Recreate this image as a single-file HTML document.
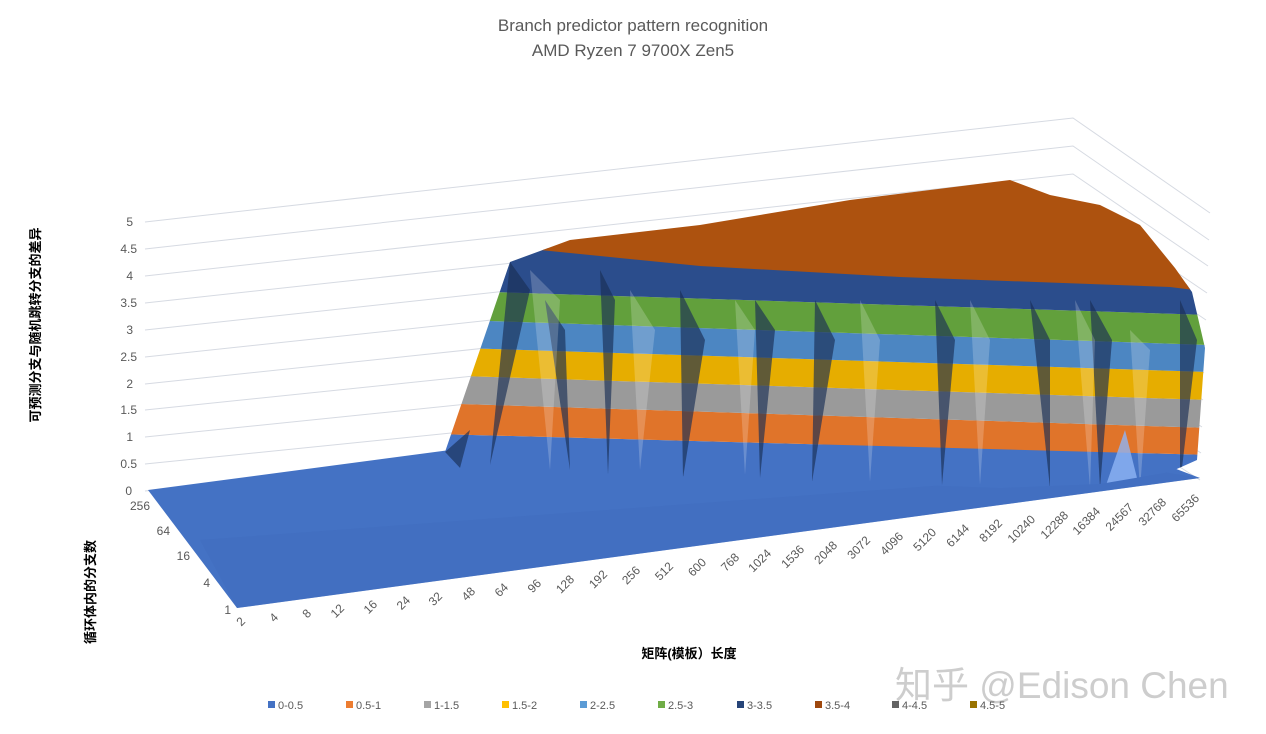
<!DOCTYPE html>
<html><head><meta charset="utf-8"><style>
html,body{margin:0;padding:0;background:#fff;}
svg{display:block;font-family:"Liberation Sans","Noto Sans CJK SC",sans-serif;}
</style></head><body>
<svg width="1266" height="734" viewBox="0 0 1266 734" xmlns="http://www.w3.org/2000/svg">
<rect width="1266" height="734" fill="#fff"/>
<text x="633" y="31" text-anchor="middle" font-size="17" fill="#595959">Branch predictor pattern recognition</text>
<text x="633" y="56" text-anchor="middle" font-size="17" fill="#595959">AMD Ryzen 7 9700X Zen5</text>

<g stroke="#d6dae2" stroke-width="1" fill="none">
<polyline points="145,491 1073,398 1200,480"/>
<polyline points="145,464 1073,370 1201,453"/>
<polyline points="145,437 1073,342 1202,427"/>
<polyline points="145,410 1073,314 1203,400"/>
<polyline points="145,384 1073,286 1204,373"/>
<polyline points="145,357 1073,258 1205,346"/>
<polyline points="145,330 1073,230 1206,320"/>
<polyline points="145,303 1073,202 1207,293"/>
<polyline points="145,276 1073,174 1208,266"/>
<polyline points="145,249 1073,146 1209,240"/>
<polyline points="145,222 1073,118 1210,213"/>
</g>
<g font-size="12" fill="#595959" text-anchor="end">
<text x="132" y="495">0</text><text x="137" y="468">0.5</text><text x="133" y="441">1</text>
<text x="137" y="414">1.5</text><text x="133" y="388">2</text><text x="137" y="361">2.5</text>
<text x="133" y="334">3</text><text x="137" y="307">3.5</text><text x="133" y="280">4</text>
<text x="137" y="253">4.5</text><text x="133" y="226">5</text>
</g>

<!-- floor -->
<polygon points="148,490 450,450 1100,440 1200,478 237,608" fill="#4472c4"/>
<polygon points="200,540 1150,470 1200,478 237,608" fill="#3f6cbd" opacity="0.5"/>

<defs><clipPath id="w"><polygon points="445,452 510,262 570,240 700,225 850,200 1010,180 1050,195 1100,205 1140,225 1175,268 1192,292 1205,348 1197,460 1170,472 1100,484 1000,488 460,468"/></clipPath></defs>
<g clip-path="url(#w)">
<polygon points="400,433 1210,455 1210,500 400,500" fill="#4472c4"/>
<polygon points="400,402 1210,428 1210,455 400,433" fill="#e0742a"/>
<polygon points="400,374 1210,400 1210,428 400,402" fill="#9a9a9a"/>
<polygon points="400,346 1210,372 1210,400 400,374" fill="#e6ad00"/>
<polygon points="400,318 1210,345 1210,372 400,346" fill="#4c86c2"/>
<polygon points="400,289 1210,315 1210,345 400,318" fill="#62a03c"/>
<polygon points="400,240 1210,285 1210,315 400,289" fill="#2b4d8c"/>
<polygon points="505,255 540,250 700,266 900,277 1170,287 1210,292 1210,150 505,150" fill="#ad520f"/>
<g fill="#1a2e55" opacity="0.65">
<polygon points="445,452 470,430 460,468"/>
<polygon points="510,262 530,290 490,465"/>
<polygon points="545,300 565,330 570,470"/>
<polygon points="600,270 615,300 608,475"/>
<polygon points="680,290 705,340 683,478"/>
<polygon points="755,300 775,330 760,478"/>
<polygon points="815,300 835,340 812,482"/>
<polygon points="935,300 955,340 942,485"/>
<polygon points="1030,300 1050,340 1050,488"/>
<polygon points="1090,300 1112,340 1100,488"/>
<polygon points="1180,300 1197,340 1180,485"/>
</g>
<g fill="#ffffff" opacity="0.2">
<polygon points="530,270 560,300 550,470"/>
<polygon points="630,290 655,330 640,470"/>
<polygon points="735,300 755,330 745,475"/>
<polygon points="860,300 880,340 870,482"/>
<polygon points="970,300 990,340 980,485"/>
<polygon points="1075,300 1095,340 1090,488"/>
<polygon points="1130,330 1150,350 1140,490"/>
</g>
<polygon points="1105,488 1125,430 1140,490" fill="#8fb4f5" opacity="0.8"/>
</g>

<g font-size="12" fill="#595959" text-anchor="end">
<text x="150" y="510">256</text><text x="170" y="535">64</text><text x="190" y="560">16</text>
<text x="210" y="587">4</text><text x="231" y="614">1</text>
</g>
<g font-size="12" fill="#595959" text-anchor="end">
<text transform="translate(246,622) rotate(-45)">2</text>
<text transform="translate(279,618) rotate(-45)">4</text>
<text transform="translate(312,614) rotate(-45)">8</text>
<text transform="translate(345,609) rotate(-45)">12</text>
<text transform="translate(378,605) rotate(-45)">16</text>
<text transform="translate(411,601) rotate(-45)">24</text>
<text transform="translate(443,597) rotate(-45)">32</text>
<text transform="translate(476,592) rotate(-45)">48</text>
<text transform="translate(509,588) rotate(-45)">64</text>
<text transform="translate(542,584) rotate(-45)">96</text>
<text transform="translate(575,580) rotate(-45)">128</text>
<text transform="translate(608,575) rotate(-45)">192</text>
<text transform="translate(641,571) rotate(-45)">256</text>
<text transform="translate(674,567) rotate(-45)">512</text>
<text transform="translate(707,563) rotate(-45)">600</text>
<text transform="translate(740,558) rotate(-45)">768</text>
<text transform="translate(772,554) rotate(-45)">1024</text>
<text transform="translate(805,550) rotate(-45)">1536</text>
<text transform="translate(838,546) rotate(-45)">2048</text>
<text transform="translate(871,541) rotate(-45)">3072</text>
<text transform="translate(904,537) rotate(-45)">4096</text>
<text transform="translate(937,533) rotate(-45)">5120</text>
<text transform="translate(970,529) rotate(-45)">6144</text>
<text transform="translate(1003,524) rotate(-45)">8192</text>
<text transform="translate(1036,520) rotate(-45)">10240</text>
<text transform="translate(1069,516) rotate(-45)">12288</text>
<text transform="translate(1101,512) rotate(-45)">16384</text>
<text transform="translate(1134,508) rotate(-45)">24567</text>
<text transform="translate(1167,503) rotate(-45)">32768</text>
<text transform="translate(1200,499) rotate(-45)">65536</text>
</g>

<text transform="translate(40,325) rotate(-90)" text-anchor="middle" font-size="13" font-weight="bold" fill="#000">可预测分支与随机跳转分支的差异</text>
<text transform="translate(95,592) rotate(-90)" text-anchor="middle" font-size="13" font-weight="bold" fill="#000">循环体内的分支数</text>
<text x="689" y="658" text-anchor="middle" font-size="13" font-weight="bold" fill="#000">矩阵(模板）长度</text>

<text x="895" y="698" font-size="37" fill="#c8c8c8" opacity="0.9">知乎 @Edison Chen</text>

<g font-size="11" fill="#595959">
<rect x="268" y="701" width="7" height="7" fill="#4472c4"/><text x="278" y="709">0-0.5</text>
<rect x="346" y="701" width="7" height="7" fill="#ed7d31"/><text x="356" y="709">0.5-1</text>
<rect x="424" y="701" width="7" height="7" fill="#a5a5a5"/><text x="434" y="709">1-1.5</text>
<rect x="502" y="701" width="7" height="7" fill="#ffc000"/><text x="512" y="709">1.5-2</text>
<rect x="580" y="701" width="7" height="7" fill="#5b9bd5"/><text x="590" y="709">2-2.5</text>
<rect x="658" y="701" width="7" height="7" fill="#70ad47"/><text x="668" y="709">2.5-3</text>
<rect x="737" y="701" width="7" height="7" fill="#264478"/><text x="747" y="709">3-3.5</text>
<rect x="815" y="701" width="7" height="7" fill="#9e480e"/><text x="825" y="709">3.5-4</text>
<rect x="892" y="701" width="7" height="7" fill="#636363"/><text x="902" y="709">4-4.5</text>
<rect x="970" y="701" width="7" height="7" fill="#997300"/><text x="980" y="709">4.5-5</text>
</g>
</svg>
</body></html>
